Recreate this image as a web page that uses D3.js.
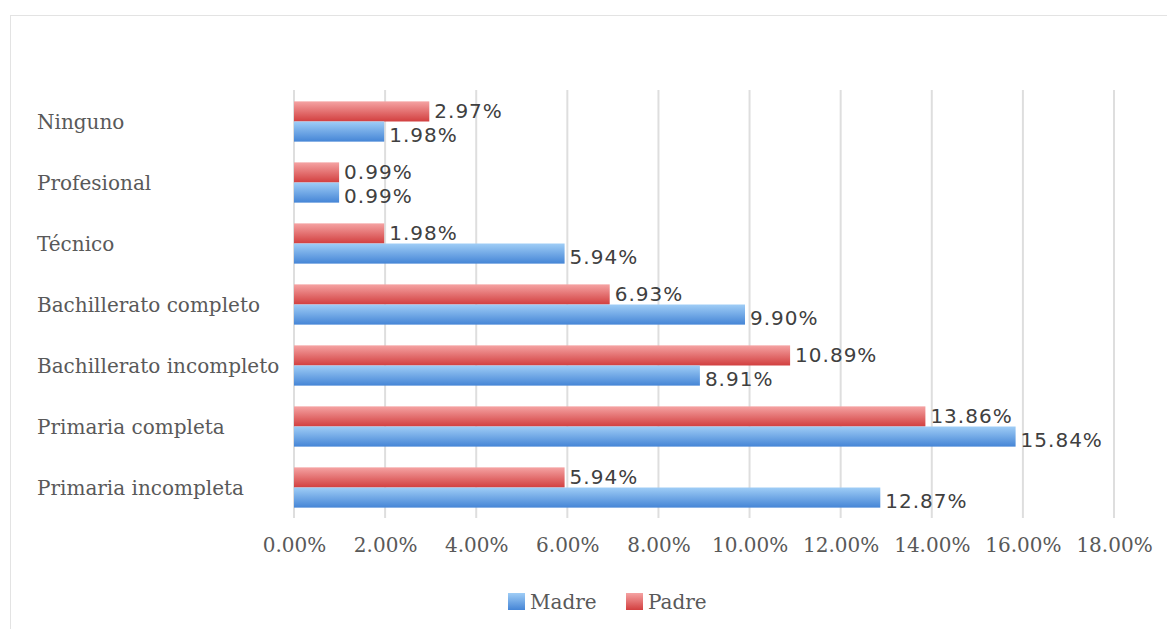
<!DOCTYPE html>
<html lang="es">
<head>
<meta charset="UTF-8">
<title>Nivel educativo</title>
<script src="https://d3js.org/d3.v7.min.js"></script>
<style>
  body { margin: 0; background: #fff; }
  .cat { font: 20px "DejaVu Serif", serif; fill: #595959; }
  .tick text { font: 20px "DejaVu Serif", serif; fill: #595959; }
  .val { font: 20px "DejaVu Sans", sans-serif; fill: #404040; letter-spacing: 1px; }
  .leg { font: 20px "DejaVu Serif", serif; fill: #595959; }
</style>
</head>
<body>
<div id="chart"></div>
<script>
var categories = ["Ninguno", "Profesional", "Técnico", "Bachillerato completo",
                  "Bachillerato incompleto", "Primaria completa", "Primaria incompleta"];
var padre = [2.97, 0.99, 1.98, 6.93, 10.89, 13.86, 5.94];
var madre = [1.98, 0.99, 5.94, 9.90, 8.91, 15.84, 12.87];
var ticks = [0, 2, 4, 6, 8, 10, 12, 14, 16, 18];

var W = 1167, H = 629;
var svg = d3.select("#chart").append("svg").attr("width", W).attr("height", H);

var defs = svg.append("defs");
function grad(id, top, bottom) {
    var g = defs.append("linearGradient").attr("id", id)
        .attr("x1", 0).attr("y1", 0).attr("x2", 0).attr("y2", 1);
    g.append("stop").attr("offset", "0%").attr("stop-color", top);
    g.append("stop").attr("offset", "100%").attr("stop-color", bottom);
}
grad("gRed", "#f5a3a3", "#d23f3f");
grad("gBlue", "#9fcdf6", "#4585d6");

// chart border
svg.append("rect").attr("x", 10.5).attr("y", 15.5).attr("width", W).attr("height", H)
    .attr("fill", "none").attr("stroke", "#e3e3e3");

var x = d3.scaleLinear().domain([0, 18]).range([294, 1114]);
var y = d3.scaleBand().domain(categories).range([91, 518]).paddingInner(0.34).paddingOuter(0.17);
var sub = d3.scaleBand().domain(["padre", "madre"]).range([0, y.bandwidth()]);

// gridlines
svg.append("g").selectAll("line").data(ticks).join("line")
    .attr("x1", d => x(d)).attr("x2", d => x(d))
    .attr("y1", 90).attr("y2", 518)
    .attr("stroke", "#dedede").attr("stroke-width", 2);

// x axis labels
var ax = svg.append("g").attr("transform", "translate(0,518)")
    .call(d3.axisBottom(x).tickValues(ticks).tickSize(0).tickPadding(20)
        .tickFormat(d => d.toFixed(2) + "%"));
ax.select(".domain").remove();

// category labels
svg.append("g").selectAll("text").data(categories).join("text")
    .attr("class", "cat")
    .attr("x", 37)
    .attr("y", d => y(d) + y.bandwidth() / 2)
    .attr("dy", "0.35em")
    .text(d => d);

var series = [
    { key: "padre", vals: padre, fill: "url(#gRed)" },
    { key: "madre", vals: madre, fill: "url(#gBlue)" }
];

series.forEach(function(s) {
    var g = svg.append("g");
    g.selectAll("rect").data(categories).join("rect")
        .attr("x", x(0))
        .attr("y", (d) => y(d) + sub(s.key))
        .attr("width", (d, i) => x(s.vals[i]) - x(0))
        .attr("height", sub.bandwidth())
        .attr("fill", s.fill);
    g.selectAll("text").data(categories).join("text")
        .attr("class", "val")
        .attr("x", (d, i) => x(s.vals[i]) + 5)
        .attr("y", (d) => y(d) + sub(s.key) + sub.bandwidth() / 2 + (s.key === "madre" ? 3 : 0))
        .attr("dy", "0.35em")
        .text((d, i) => s.vals[i].toFixed(2) + "%");
});

// legend
var legend = [
    { name: "Madre", fill: "url(#gBlue)", x: 508 },
    { name: "Padre", fill: "url(#gRed)", x: 626 }
];
var lg = svg.append("g").selectAll("g").data(legend).join("g")
    .attr("transform", d => "translate(" + d.x + ",593)");
lg.append("rect").attr("width", 17).attr("height", 17).attr("fill", d => d.fill);
lg.append("text").attr("class", "leg").attr("x", 22).attr("y", 9).attr("dy", "0.35em")
    .text(d => d.name);
</script>
</body>
</html>
